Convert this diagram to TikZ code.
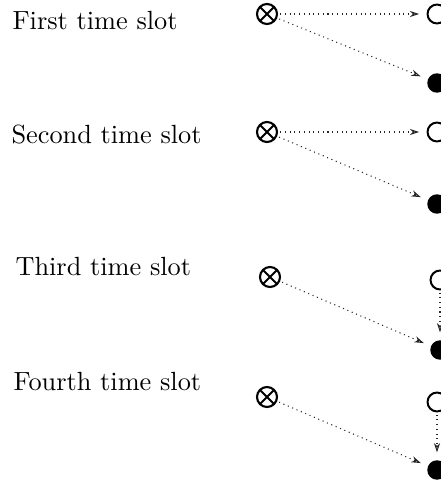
\documentclass[tikz,border=0pt]{standalone}
\usetikzlibrary{arrows.meta}
\begin{document}
\begin{tikzpicture}[x=0.3802pt,y=-0.3802pt,
  slotlabel/.style={anchor=base west,inner sep=0pt,font=\normalsize},
  srcnode/.style={circle,draw,line width=0.8pt,minimum size=7.6pt,inner sep=0pt,
    path picture={\draw[line width=0.8pt]
      (path picture bounding box.north west) -- (path picture bounding box.south east)
      (path picture bounding box.north east) -- (path picture bounding box.south west);}},
  opennode/.style={circle,draw,line width=0.75pt,minimum size=7.2pt,inner sep=0pt},
  fillnode/.style={circle,fill,minimum size=7.4pt,inner sep=0pt},
  link/.style={draw=black!85,dash pattern=on 0.4pt off 1.4pt,line width=0.4pt,
    -{Stealth[open,length=3.6pt,width=2.4pt,line width=0.4pt]},shorten >=2.8pt,shorten <=0.8pt}
]
\useasboundingbox (0,0) rectangle (441,484);
% labels
\node[slotlabel] (l1) at (12,30) {First time slot};
\node[slotlabel] (l2) at (11,144) {Second time slot};
\node[slotlabel] (l3) at (15,275) {Third time slot};
\node[slotlabel] (l4) at (13,390) {Fourth time slot};
% slot 1
\node[srcnode] (o1) at (267,14) {};
\node[opennode] (c1) at (437,14) {};
\node[fillnode] (f1) at (437,83) {};
\draw[link] (o1) -- (c1);
\draw[link] (o1) -- (f1);
% slot 2
\node[srcnode] (o2) at (267,132) {};
\node[opennode] (c2) at (437,132) {};
\node[fillnode] (f2) at (437,204) {};
\draw[link] (o2) -- (c2);
\draw[link] (o2) -- (f2);
% slot 3
\node[srcnode] (o3) at (270,277) {};
\node[opennode] (c3) at (440,280) {};
\node[fillnode] (f3) at (440,350) {};
\draw[link] (o3) -- (f3);
\draw[link] (c3) -- (f3);
% slot 4
\node[srcnode] (o4) at (267,397) {};
\node[opennode] (c4) at (437,402) {};
\node[fillnode] (f4) at (437,470) {};
\draw[link] (o4) -- (f4);
\draw[link] (c4) -- (f4);
\end{tikzpicture}
\end{document}
